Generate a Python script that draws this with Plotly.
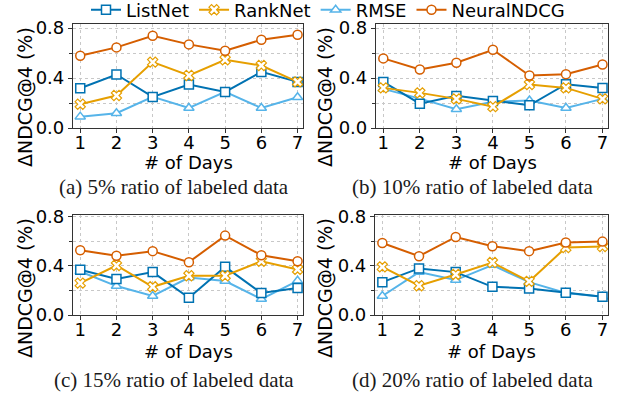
import plotly.graph_objects as go

W, H = 621, 396

days = [1, 2, 3, 4, 5, 6, 7]
series_names = ["ListNet", "RankNet", "RMSE", "NeuralNDCG"]

# panel (a) 5%
a_listnet = [0.318, 0.428, 0.249, 0.348, 0.289, 0.449, 0.369]
a_ranknet = [0.190, 0.260, 0.527, 0.420, 0.546, 0.500, 0.369]
a_rmse = [0.091, 0.118, 0.249, 0.160, 0.289, 0.160, 0.246]
a_neural = [0.578, 0.645, 0.738, 0.669, 0.618, 0.706, 0.746]

# panel (b) 10%
b_listnet = [0.369, 0.195, 0.257, 0.217, 0.182, 0.350, 0.321]
b_ranknet = [0.321, 0.281, 0.233, 0.171, 0.348, 0.321, 0.233]
b_rmse = [0.313, 0.235, 0.150, 0.210, 0.220, 0.160, 0.233]
b_neural = [0.557, 0.468, 0.522, 0.626, 0.420, 0.431, 0.508]

# panel (c) 15%
c_listnet = [0.369, 0.293, 0.350, 0.141, 0.393, 0.179, 0.220]
c_ranknet = [0.260, 0.404, 0.230, 0.320, 0.320, 0.439, 0.372]
c_rmse = [0.355, 0.236, 0.155, 0.306, 0.277, 0.130, 0.279]
c_neural = [0.529, 0.483, 0.521, 0.431, 0.648, 0.488, 0.439]

# panel (d) 20%
d_listnet = [0.268, 0.380, 0.350, 0.230, 0.217, 0.182, 0.149]
d_ranknet = [0.393, 0.239, 0.331, 0.428, 0.274, 0.550, 0.559]
d_rmse = [0.155, 0.350, 0.285, 0.407, 0.268, 0.180, 0.149]
d_neural = [0.588, 0.480, 0.637, 0.561, 0.521, 0.591, 0.599]

captions = ["(a) 5% ratio of labeled data", "(b) 10% ratio of labeled data",
            "(c) 15% ratio of labeled data", "(d) 20% ratio of labeled data"]
y_title = "ΔNDCG@4 (%)"
x_title = "# of Days"
y_ticks = [0.0, 0.4, 0.8]

colors = {"ListNet": "#0072B2", "RankNet": "#E69F00", "RMSE": "#56B4E9", "NeuralNDCG": "#D55E00"}
symbols = {"ListNet": "square", "RankNet": "x", "RMSE": "triangle-up", "NeuralNDCG": "circle"}
msizes = {"ListNet": 9, "RankNet": 9, "RMSE": 9, "NeuralNDCG": 9}
mlw = {"ListNet": 1.5, "RankNet": 1.2, "RMSE": 1.5, "NeuralNDCG": 1.5}
rank = {"ListNet": 1, "RankNet": 2, "RMSE": 3, "NeuralNDCG": 4}

panels = [
    {"ListNet": a_listnet, "RankNet": a_ranknet, "RMSE": a_rmse, "NeuralNDCG": a_neural},
    {"ListNet": b_listnet, "RankNet": b_ranknet, "RMSE": b_rmse, "NeuralNDCG": b_neural},
    {"ListNet": c_listnet, "RankNet": c_ranknet, "RMSE": c_rmse, "NeuralNDCG": c_neural},
    {"ListNet": d_listnet, "RankNet": d_ranknet, "RMSE": d_rmse, "NeuralNDCG": d_neural},
]

# pixel frames: (left, right, top, bottom)
frames = [(73, 303, 24, 128), (376, 608, 24, 128), (73, 303, 215, 315), (375, 608, 215, 315)]
yranges = [[0, 0.832], [0, 0.832], [0, 0.816], [0, 0.816]]

def px(x):
    return x / W

def py(y):
    return 1 - y / H

fig = go.Figure()
draw_order = ["RMSE", "ListNet", "RankNet", "NeuralNDCG"]
for i, data in enumerate(panels):
    ax = "" if i == 0 else str(i + 1)
    for name in draw_order:
        fig.add_trace(go.Scatter(
            x=days, y=data[name], name=name, mode="lines+markers",
            xaxis="x" + ax, yaxis="y" + ax,
            line=dict(color=colors[name], width=2),
            marker=dict(symbol=symbols[name], size=msizes[name],
                        color="white", line=dict(color=colors[name], width=mlw[name])),
            showlegend=(i == 0), legendrank=rank[name],
        ))

font = "DejaVu Sans"
grid = dict(showgrid=True, gridcolor="#c8c8c8", griddash="dot", gridwidth=0.8)
for i, (l, r, t, b) in enumerate(frames):
    ax = "" if i == 0 else str(i + 1)
    fig.layout["xaxis" + ax] = dict(
        domain=[px(l), px(r)], range=[0.8, 7.15], anchor="y" + ax,
        tickvals=days, ticks="outside", ticklen=4, tickcolor="#333",
        ticklabelstandoff=-6,
        showline=True, linecolor="#333", linewidth=1.2, mirror=True, automargin=False,
        tickfont=dict(family=font, size=18, color="black"), zeroline=False, **grid)
    fig.layout["yaxis" + ax] = dict(
        domain=[py(b), py(t)], range=yranges[i], anchor="x" + ax,
        tickvals=y_ticks, tickformat=".1f", ticks="outside", ticklen=4, tickcolor="#333",
        showline=True, linecolor="#333", linewidth=1.2, mirror=True, automargin=False,
        tickfont=dict(family=font, size=18, color="black"), zeroline=False,
        minor=dict(dtick=0.2, tick0=0, ticks="outside", ticklen=2.5, tickcolor="#333",
                   showgrid=True, gridcolor="#c8c8c8", griddash="dot", gridwidth=0.8),
        **grid)

ann = []
title_y = [97, 97, 288, 288]
title_x = [25, 325, 25, 325]
xt_y = [163, 163, 351, 351]
cap_y = [187, 187, 380, 380]
cap_x = [174, 472, 174, 472]
for i, (l, r, t, b) in enumerate(frames):
    ann.append(dict(text=y_title, x=px(title_x[i]), y=py(title_y[i]), xref="paper", yref="paper",
                    textangle=-90, showarrow=False, font=dict(family=font, size=19, color="black"),
                    xanchor="center", yanchor="middle"))
    ann.append(dict(text=x_title, x=px((l + r) / 2), y=py(xt_y[i]), xref="paper", yref="paper",
                    showarrow=False, font=dict(family=font, size=18, color="black"),
                    xanchor="center", yanchor="middle"))
    ann.append(dict(text=captions[i], x=px(cap_x[i]), y=py(cap_y[i]), xref="paper", yref="paper",
                    showarrow=False, font=dict(family="Liberation Serif", size=21, color="#1a1a1a"),
                    xanchor="center", yanchor="middle"))

fig.update_layout(
    width=W, height=H, margin=dict(l=0, r=0, t=0, b=0, autoexpand=False),
    paper_bgcolor="white", plot_bgcolor="white",
    annotations=ann,
    legend=dict(orientation="h", x=px(328), xanchor="center", y=py(10), yanchor="middle",
                font=dict(family=font, size=18, color="black"), itemwidth=30,
                bgcolor="rgba(0,0,0,0)", tracegroupgap=0),
)

fig.write_html("out.html", config={"displayModeBar": False},
               post_script="document.body.style.margin='0';document.body.style.overflow='hidden';")
